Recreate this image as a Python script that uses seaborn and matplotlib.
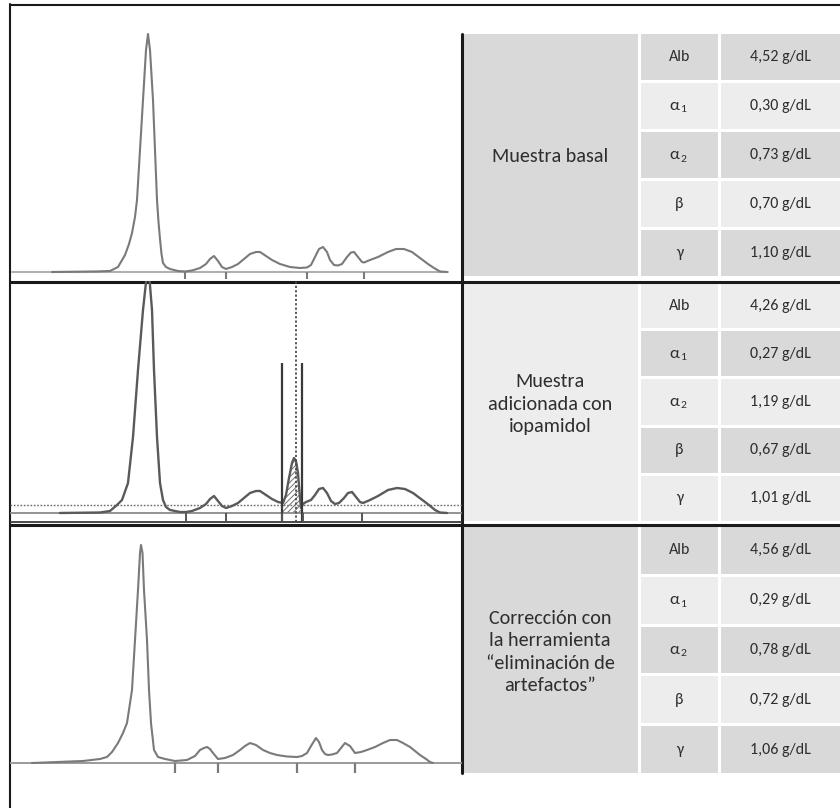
import numpy as np
import pandas as pd
import matplotlib
matplotlib.use("Agg")
import matplotlib.pyplot as plt
import seaborn as sns
from matplotlib.patches import Rectangle
from matplotlib import font_manager

# ---------------- data ----------------
# densitometric traces: mobility position (a.u.) and signal height above baseline (a.u.)
basal_x = [52, 95, 110, 118, 125, 129, 132, 135, 137, 140, 143, 146, 148, 150, 153, 155, 157, 158.5,
           160, 161.5, 163, 166, 170, 178, 185, 192, 200, 206, 210, 214, 218, 222, 226, 232, 238, 244,
           250, 256, 260, 266, 272, 280, 290, 300, 307, 311, 315, 319, 323, 327, 330, 334, 338, 342,
           347, 351, 354, 358, 362, 364, 370, 378, 388, 396, 404, 412, 420, 428, 434, 440, 447]
basal_h = [0, 0.5, 1, 5, 17, 28, 39, 55, 72, 122, 172, 222, 238, 222, 172, 122, 72, 50,
           33, 18, 9, 5, 3, 1, 0.5, 1.5, 4, 8, 13, 16, 11, 5, 3, 5, 8, 13,
           18, 20, 20, 16, 12, 8, 5, 4, 4.5, 7, 15, 23, 25, 20, 12, 7, 6.5, 8,
           15, 19.5, 20, 15, 10, 9.5, 12, 15, 20, 23, 23, 20, 14, 8, 4, 0.5, 0]

spiked_x = [60, 100, 110, 117, 122, 128, 133, 138, 143, 147, 148, 149, 152, 154, 157, 160, 163, 166,
            170, 180, 186, 192, 200, 206, 210, 214, 218, 222, 226, 232, 238, 244, 250, 256, 260, 266,
            272, 278, 283, 286, 289, 292, 294, 296, 298, 300, 301, 303, 306, 311, 315, 319, 323, 327,
            331, 335, 339, 344, 348, 352, 356, 360, 363, 370, 378, 388, 397, 405, 413, 421, 429, 435,
            440, 447]
spiked_h = [0, 0.5, 2, 8, 13, 30, 76, 143, 203, 240, 242, 240, 203, 143, 76, 30, 13, 6,
            3, 1, 1, 2, 5, 9, 14, 17, 12, 7, 5, 7, 10, 15, 20, 22, 22, 18,
            14, 11, 10, 18, 35, 50, 55, 52, 40, 15, 5, 9, 11, 13, 18, 24, 25, 20,
            12, 9, 10, 15, 20, 21, 16, 11, 10, 13, 17, 23, 25, 24, 20, 14, 8, 3,
            0.5, 0]

corrected_x = [32, 83, 100, 107, 112, 118, 123, 127, 132, 135, 138, 140, 141, 142.5, 144, 147, 149,
               151, 154, 158, 165, 175, 187, 195, 200, 204, 207, 210, 213, 218, 225, 233, 240, 245,
               250, 256, 263, 270, 277, 287, 297, 302, 307, 311, 316, 319, 322, 325, 328, 332, 337,
               341, 345, 350, 355, 361, 367, 375, 383, 390, 397, 403, 410, 420, 426, 430, 433]
corrected_h = [0, 2, 4, 6, 11, 20, 30, 40, 73, 123, 173, 210, 218, 210, 173, 123, 73,
               40, 13, 6, 4, 2, 3, 7, 13, 15, 16, 14, 10, 4, 5, 8, 13, 17,
               20, 18, 13, 10, 8, 6.5, 6, 7, 10, 17, 25, 21, 13, 9, 8, 8.5, 10,
               15, 20, 17, 10, 11, 13, 16, 20, 23, 23, 20, 16, 8, 4, 1, 0]

# fraction cut points (a.u.)
basal_cuts = [185, 226, 307, 364]
spiked_cuts = [186, 226, 282, 303, 362]
spiked_artifact_bounds = [282, 302]
spiked_artifact_center = 296
corrected_cuts = [175, 218, 297, 355]

# table
group_labels = ["Muestra basal",
                "Muestra\nadicionada con\niopamidol",
                "Corrección con\nla herramienta\n\u201celiminación de\nartefactos\u201d"]
fractions = ["Alb", "α", "α", "β", "γ"]
fraction_subs = ["", "1", "2", "", ""]
basal_values = [4.52, 0.30, 0.73, 0.70, 1.10]
spiked_values = [4.26, 0.27, 1.19, 0.67, 1.01]
corrected_values = [4.56, 0.29, 0.78, 0.72, 1.06]
unit = "g/dL"

# ---------------- style ----------------
sns.set_theme(style="white")
names = {f.name for f in font_manager.fontManager.ttflist}
if "Carlito" in names:
    FONT = ["Carlito", "Noto Sans", "DejaVu Sans"]
    FS_GROUP, FS_CELL = 14.5, 11.5
else:
    FONT = ["Lato", "Noto Sans", "DejaVu Sans"]
    FS_GROUP, FS_CELL = 13.2, 10.6
plt.rcParams["font.family"] = FONT
plt.rcParams["hatch.linewidth"] = 0.7

W, H = 840, 808
fig = plt.figure(figsize=(W / 100, H / 100), dpi=100)
fig.patch.set_facecolor("white")

bg = fig.add_axes([0, 0, 1, 1])
bg.set_xlim(0, W)
bg.set_ylim(H, 0)
bg.axis("off")

DARK, LIGHT = "#d9d9d9", "#ededed"
TXT = "#2e2e2e"

table_bounds = [(34, 276), (283, 521), (527, 773)]
all_values = [basal_values, spiked_values, corrected_values]
for p, (t, b) in enumerate(table_bounds):
    block_dark = p != 1
    bg.add_patch(Rectangle((462, t), 176, b - t, facecolor=DARK if block_dark else LIGHT,
                           edgecolor="none", zorder=1))
    bg.text(550, (t + b) / 2 + 2, group_labels[p], ha="center", va="center", fontsize=FS_GROUP,
            color=TXT, linespacing=1.38, family=FONT, zorder=3)
    gap = 3
    rh = (b - t - 4 * gap) / 5
    for i in range(5):
        y0 = t + i * (rh + gap)
        yc = y0 + rh / 2
        dark = (i % 2 == 0) == block_dark
        col = DARK if dark else LIGHT
        bg.add_patch(Rectangle((641, y0), 77, rh, facecolor=col, edgecolor="none", zorder=1))
        bg.add_patch(Rectangle((721, y0), 119, rh, facecolor=col, edgecolor="none", zorder=1))
        if fraction_subs[i]:
            bg.text(679.5, yc, fractions[i], ha="right", va="center", fontsize=FS_CELL + 1,
                    color=TXT, family=FONT, zorder=3)
            bg.text(680.5, yc + 4, fraction_subs[i], ha="left", va="center",
                    fontsize=FS_CELL * 0.72, color=TXT, family=FONT, zorder=3)
        else:
            bg.text(679.5, yc, fractions[i], ha="center", va="center", fontsize=FS_CELL,
                    color=TXT, family=FONT, zorder=3)
        v = f"{all_values[p][i]:.2f}".replace(".", ",") + " " + unit
        bg.text(780.5, yc, v, ha="center", va="center", fontsize=FS_CELL,
                color=TXT, family=FONT, zorder=3)

# frame lines
bg.plot([10, 840], [4.5, 4.5], color="#1a1a1a", lw=1.5, zorder=5)
bg.plot([10, 10], [4, 808], color="#1a1a1a", lw=1.5, zorder=5)
for yy in (281.5, 524.5):
    bg.plot([10, 840], [yy, yy], color="#1a1a1a", lw=2.2, zorder=5)
bg.plot([462, 462], [34, 773], color="#1a1a1a", lw=2.2, zorder=5)

# ---------------- traces ----------------
panels = [(4.5, 281, 272), (281, 525, 513), (525, 808, 763)]
axes = []
for (t, b, base) in panels:
    ax = fig.add_axes([10 / W, 1 - b / H, 452 / W, (b - t) / H])
    ax.set_xlim(10, 462)
    ax.set_ylim(-(b - base), base - t)
    ax.axis("off")
    ax.patch.set_alpha(0)
    axes.append(ax)

# panel 1: basal
ax = axes[0]
ax.axhline(0, xmin=0.005, xmax=0.97, color="#b0b0b0", lw=1.5)
df = pd.DataFrame({"x": basal_x, "h": basal_h})
sns.lineplot(data=df, x="x", y="h", ax=ax, color="#7a7a7a", lw=1.5, sort=False, estimator=None)
ax.vlines(basal_cuts, -7, 0, color="#7a7a7a", lw=1.5)
ax.axis("off")

# panel 2: spiked with iopamidol
ax = axes[1]
ax.axhline(8, color="#6a6a6a", lw=1.0, ls=(0, (1.2, 1.2)))
ax.axhline(0, color="#8a8a8a", lw=1.3)
ax.axhline(-9, color="#3a3a3a", lw=1.3)
df = pd.DataFrame({"x": spiked_x, "h": spiked_h})
sns.lineplot(data=df, x="x", y="h", ax=ax, color="#5a5a5a", lw=1.7, sort=False, estimator=None)
sx = np.array(spiked_x, dtype=float)
sh = np.array(spiked_h, dtype=float)
m = (sx >= spiked_artifact_bounds[0] + 1) & (sx <= spiked_artifact_bounds[1] - 1)
ax.fill_between(sx[m], 0, sh[m], facecolor="none", edgecolor="#707070", hatch="//////", lw=0)
ax.vlines(spiked_artifact_bounds, -9, 150, color="#3a3a3a", lw=1.6)
ax.vlines([spiked_artifact_center], -9, 235, color="#4a4a4a", lw=1.3, linestyles=[(0, (1.2, 1.2))])
ax.vlines(spiked_cuts, -9, 0, color="#555555", lw=1.4)
ax.axis("off")

# panel 3: corrected
ax = axes[2]
ax.axhline(0, color="#9a9a9a", lw=1.4)
df = pd.DataFrame({"x": corrected_x, "h": corrected_h})
sns.lineplot(data=df, x="x", y="h", ax=ax, color="#7a7a7a", lw=1.5, sort=False, estimator=None)
ax.vlines(corrected_cuts, -10, 0, color="#7a7a7a", lw=1.6)
ax.axis("off")

fig.savefig("out.png", dpi=100, facecolor="white")
